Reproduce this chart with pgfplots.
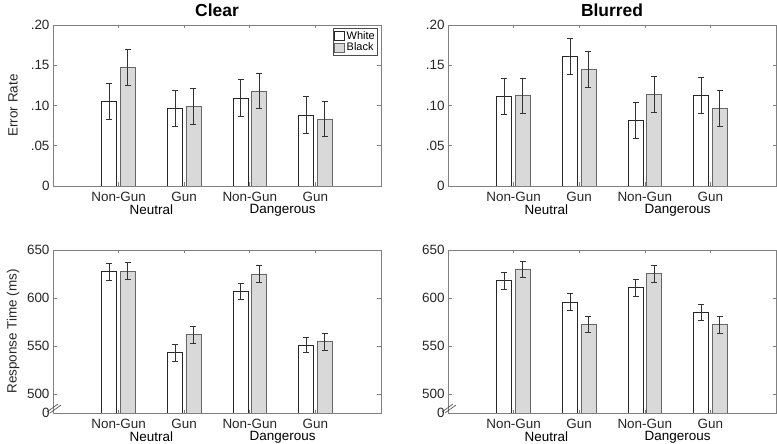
\documentclass[border=0pt]{standalone}
\usepackage{pgfplots}
\usepackage{pgfplotstable}
\pgfplotsset{compat=1.18}
\usepackage{fontspec}
\setmainfont{Liberation Sans}
\definecolor{axgray}{HTML}{808080}
\definecolor{barfill}{HTML}{D9D9D9}
\definecolor{txt}{HTML}{262626}

\pgfplotstableread{
x w we b be
1 0.1055 0.0225 0.147 0.0225
2 0.0965 0.0225 0.0985 0.0225
3 0.109 0.023 0.118 0.022
4 0.088 0.023 0.083 0.022
}\clearER
\pgfplotstableread{
x w we b be
1 0.111 0.0225 0.112 0.022
2 0.161 0.0225 0.1445 0.0225
3 0.0817 0.0225 0.1135 0.0225
4 0.113 0.0225 0.0965 0.0225
}\blurER
\pgfplotstableread{
x w we b be
1 627.3 8.5 628.0 8.7
2 542.7 8.5 561.7 8.7
3 607.0 8.5 625.0 8.5
4 551.0 8.3 554.2 8.5
}\clearRT
\pgfplotstableread{
x w we b be
1 618.0 8.6 630.2 8.3
2 595.8 8.6 572.5 8.5
3 610.8 8.7 625.3 8.6
4 584.8 8.5 572.0 8.5
}\blurRT

\pgfplotsset{
  base/.style={
    scale only axis, width=328bp,
    anchor=south west,
    xmin=0, xmax=5, xtick={1,2,3,4},
    xticklabels={Non-Gun,Gun,Non-Gun,Gun},
    xticklabel style={yshift=-3bp},
    extra x ticks={1.5,3.5},
    extra x tick labels={Neutral,Dangerous},
    extra x tick style={major tick length=0pt, xticklabel style={yshift=-12bp, text=black}},
    ybar=3.5bp, bar width=15bp,
    axis line style={axgray, line width=0.6bp},
    tick style={axgray, line width=0.6bp},
    major tick length=3.5bp, tick align=inside,
    ticklabel style={font=\fontsize{13.5}{15}\selectfont, text=txt},
    /pgf/number format/assume math mode=true,
    every axis y label/.style={at={(axis description cs:-0.1216,0.5)}, rotate=90, anchor=center,
      font=\fontsize{13.5}{15}\selectfont, text=txt},
    every axis title/.style={at={(0.5,1)}, anchor=center, yshift=15bp,
      font=\bfseries\fontsize{17.5}{20}\selectfont},
    error bars/error bar style={line width=0.8bp, draw=black!80},
    error bars/error mark options={rotate=90, mark size=3bp, line width=0.8bp, draw=black!80},
  },
  erplot/.style={base, height=161bp, ymin=0, ymax=0.2,
    ytick={0,0.05,0.1,0.15,0.2}, yticklabels={0,.05,.10,.15,.20}},
  rtplot/.style={base, height=163bp, ymin=480, ymax=650,
    ytick={480,500,550,600,650}, yticklabels={0,500,550,600,650}},
  wbar/.style={draw=black!85, fill=white, line width=0.8bp},
  bbar/.style={draw=black!60, fill=barfill, line width=0.8bp},
}

\begin{document}
\begin{tikzpicture}
\path[use as bounding box] (0bp,0bp) rectangle (777bp,444bp);

\begin{axis}[erplot, at={(53bp,258bp)}, title={Clear}, ylabel={Error Rate},
  legend style={at={(1,1)}, anchor=north east, xshift=-3bp, yshift=-3bp,
    draw=black!70, line width=0.6bp, inner sep=1bp, row sep=-2bp,
    font=\fontsize{11}{12}\selectfont, cells={anchor=west}},
  legend image code/.code={\draw[#1] (0bp,-4.5bp) rectangle (10bp,4.5bp);}]
\addplot[wbar, error bars/.cd, y dir=both, y explicit] table[x=x, y=w, y error=we] {\clearER};
\addplot[bbar, error bars/.cd, y dir=both, y explicit] table[x=x, y=b, y error=be] {\clearER};
\legend{White,Black}
\end{axis}

\begin{axis}[erplot, at={(448bp,258bp)}, title={Blurred}]
\addplot[wbar, error bars/.cd, y dir=both, y explicit] table[x=x, y=w, y error=we] {\blurER};
\addplot[bbar, error bars/.cd, y dir=both, y explicit] table[x=x, y=b, y error=be] {\blurER};
\end{axis}

\begin{axis}[rtplot, at={(53bp,31bp)}, ylabel={Response Time (ms)}, name=bl]
\addplot[wbar, error bars/.cd, y dir=both, y explicit] table[x=x, y=w, y error=we] {\clearRT};
\addplot[bbar, error bars/.cd, y dir=both, y explicit] table[x=x, y=b, y error=be] {\clearRT};
\end{axis}

\begin{axis}[rtplot, at={(448bp,31bp)}, name=br]
\addplot[wbar, error bars/.cd, y dir=both, y explicit] table[x=x, y=w, y error=we] {\blurRT};
\addplot[bbar, error bars/.cd, y dir=both, y explicit] table[x=x, y=b, y error=be] {\blurRT};
\end{axis}

\draw[black!75, line width=0.6bp, shift={(bl.south west)}] (-6bp,1bp) -- (5bp,9bp) (-3bp,0bp) -- (8bp,8bp);
\draw[black!75, line width=0.6bp, shift={(br.south west)}] (-6bp,1bp) -- (5bp,9bp) (-3bp,0bp) -- (8bp,8bp);
\end{tikzpicture}
\end{document}
